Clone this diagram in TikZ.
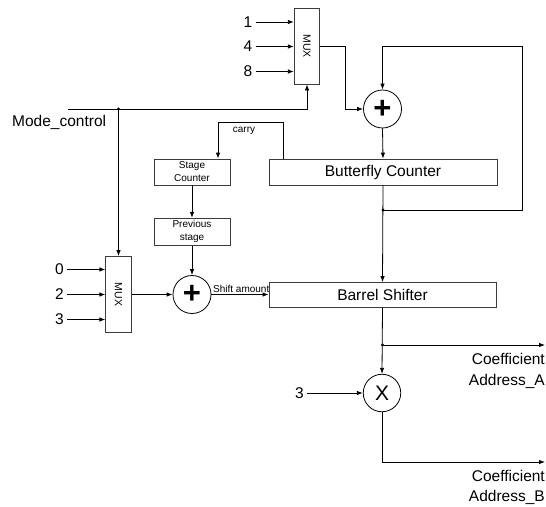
\documentclass[tikz,border=0pt]{standalone}
\usepackage{fontspec}
\setmainfont{Liberation Sans}
\usetikzlibrary{arrows.meta,positioning,calc}
\definecolor{wirex}{HTML}{000000}
\definecolor{boxline}{HTML}{3C3C3C}
\tikzset{
  ar/.style={-{Latex[length=6pt,width=4.5pt]},line width=0.8pt,wirex},
  ln/.style={line width=0.8pt,wirex},
  box/.style={draw=boxline,line width=0.8pt,align=center},
  muxbox/.style={box,minimum width=25.5pt,minimum height=76pt,inner sep=0pt},
  op/.style={draw,line width=0.8pt,circle,minimum size=38pt,inner sep=0pt},
  lbl/.style={font=\fontsize{15.5}{21}\selectfont,inner sep=3pt},
  sml/.style={font=\fontsize{10}{13}\selectfont,inner sep=1pt}
}

\begin{document}
\begin{tikzpicture}[x=1pt,y=-1pt]
\useasboundingbox (0,0) rectangle (546,506);
% multiplexers
\node[muxbox] (muxT) at (307,46) {};
\node[sml,rotate=-90,font=\fontsize{10.5}{13}\selectfont] (muxTt) at (muxT) {MUX};
\node[muxbox] (muxB) at (118.5,294.5) {};
\node[sml,rotate=-90,font=\fontsize{10.5}{13}\selectfont] (muxBt) at (muxB) {MUX};
\node[lbl] (in1) at (248,22) {1};
\node[lbl] (in4) at (248,46.5) {4};
\node[lbl] (in8) at (248,71.5) {8};
\node[lbl] (in0) at (59.5,269.5) {0};
\node[lbl] (in2) at (59.5,294.5) {2};
\node[lbl] (in3) at (59.5,319.5) {3};
\foreach \n in {in1,in4,in8} \draw[ar] (\n) -- (\n -| muxT.west);
\foreach \n in {in0,in2,in3} \draw[ar] (\n) -- (\n -| muxB.west);
% blocks
\node[op] (add1) at (382.5,109) {\fontsize{31}{31}\selectfont\textbf{+}};
\node[op] (add2) at (192,294.5) {\fontsize{31}{31}\selectfont\textbf{+}};
\node[op,minimum size=37.5pt] (mult) at (382,393) {\fontsize{21}{21}\selectfont X};
\node[box,lbl,minimum width=228pt,minimum height=26pt] (bfly) at (383,172) {Butterfly Counter};
\node[box,lbl,minimum width=227pt,minimum height=25pt] (barrel) at (382.5,295) {Barrel Shifter};
\node[box,sml,minimum width=76pt,minimum height=26pt] (stage) at (192,172) {Stage\\Counter};
\node[box,sml,minimum width=76pt,minimum height=27pt] (prev) at (192,231.7) {Previous\\stage};
% mode control
\node[lbl,anchor=west] (mode) at (9,122) {Mode\_control};
\coordinate (modeS) at (68,109);
\coordinate (jM) at (118.5,109);
\draw[ar] (modeS) -- (modeS -| muxT) -- (muxT.south);
\draw[ar] (jM) -- (muxB.north);
\fill (jM) circle (1.6);
% counter loop
\draw[ar] (muxT.east) -- ++(25,0) |- (add1.west);
\draw[ar] (add1.south) -- (bfly.north);
\coordinate (jB) at (383,210);
\coordinate (loopTR) at (522,46);
\draw[ar] (jB) -| (loopTR) -| (add1.north);
\draw[ar] (bfly.south) -- (barrel.north);
\fill (jB) circle (1.6);
\coordinate (carryR) at (283,122);
\draw[ar] (carryR |- bfly.north) -- (carryR) -| ([xshift=26pt]stage.north);
\node[sml] (carry) at (244,131) {carry};
\draw[ar] (stage.south) -- (prev.north);
\draw[ar] (prev.south) -- (add2.north);
\draw[ar] (muxB.east) -- (add2.west);
\draw[ar] (add2.east) -- (add2 -| barrel.west);
\node[sml,anchor=west] (shift) at (212,289) {Shift amount};
% outputs
\coordinate (jC) at (382.5,345);
\coordinate (outA) at (545,345);
\coordinate (outB) at (545,462);
\draw[ar] (barrel.south) -- (mult.north);
\draw[ar] (jC) -- (outA);
\fill (jC) circle (1.6);
\node[lbl] (in3m) at (299.5,393) {3};
\draw[ar] (in3m) -- (mult.west);
\draw[ar] (mult.south) |- (outB);
\node[lbl,anchor=north east,align=right] (coefA) at (548,350) {Coefficient\\Address\_A};
\node[lbl,anchor=north east,align=right,font=\fontsize{15.5}{20}\selectfont] (coefB) at (548,467) {Coefficient\\Address\_B};
\end{tikzpicture}
\end{document}
